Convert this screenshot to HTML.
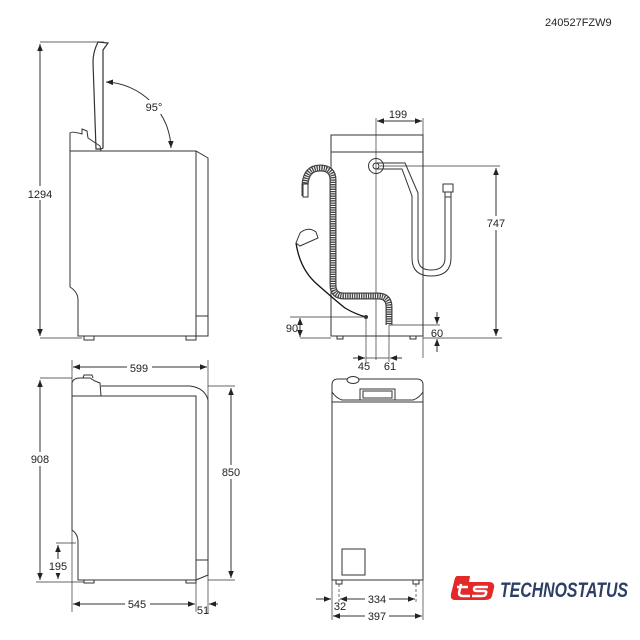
<!DOCTYPE html>
<html><head><meta charset="utf-8"><style>
html,body{margin:0;padding:0;background:#fff}
svg{display:block}
text{font-family:"Liberation Sans",sans-serif;font-size:11px;fill:#222}
</style></head><body>
<svg width="640" height="640" viewBox="0 0 640 640" xmlns="http://www.w3.org/2000/svg">
<defs>
<marker id="a" viewBox="0 0 10 10" refX="10" refY="5" markerWidth="7" markerHeight="7" orient="auto-start-reverse"><path d="M0,1 L10,5 L0,9 z" fill="#222"/></marker>
</defs>
<g fill="none" stroke="#333" stroke-width="1">
<line x1="40" y1="42" x2="104" y2="42" stroke-width="0.7"/>
<line x1="40" y1="338" x2="82" y2="338" stroke-width="0.7"/>
<line x1="40" y1="44" x2="40" y2="336" marker-start="url(#a)" marker-end="url(#a)"/>
<path d="M98,42 L108,43 L103,50 L103,148 L101,149 L96,149 L93,62 Q93,52 98,42 z" stroke-width="1.2"/>
<path d="M70,151 L70,133 Q72,131 82,134 L82,129 L87,131 L88,138 L100,146 L101,151"/>
<path d="M70,151 L196,151 L208,158 L208,336 L196,336 M196,151 L196,336 M196,316 L208,316"/>
<path d="M70,151 L70,287 Q78,292 78,300 L78,336 L196,336"/>
<path d="M84,336 L84,340 L94,340 L94,336 M186,336 L186,340 L196,340 L196,336"/>
<path d="M106,82 A68,68 0 0 1 171,148" marker-start="url(#a)" marker-end="url(#a)"/>

<path d="M331,336 L331,135 L423,135 L423,336 Z M331,152 L423,152"/>
<path d="M337,336 L337,339 L343,339 L343,336 M410,336 L410,339 L416,339 L416,336"/>
<line x1="376" y1="118" x2="376" y2="360" stroke-width="0.7"/>
<line x1="423" y1="118" x2="423" y2="358" stroke-width="0.7"/>
<line x1="377" y1="121" x2="422" y2="121" marker-start="url(#a)" marker-end="url(#a)"/>
<circle cx="376" cy="166" r="7.5"/>
<circle cx="376" cy="166" r="3"/>
<path d="M376,163 L405,163 L418,193 L418,258 Q418,270 431,270 Q445,270 445,258 L445,196 M376,169 L402,169 L412,196 L412,258 Q412,276 431,276 Q451,276 451,258 L451,196"/>
<rect x="443" y="184" width="10" height="8"/>
<rect x="445" y="192" width="6" height="5"/>
<line x1="380" y1="166" x2="500" y2="166" stroke-width="0.7"/>
<line x1="423" y1="338" x2="502" y2="338" stroke-width="0.7"/>
<line x1="300" y1="338" x2="331" y2="338" stroke-width="0.7"/>
<line x1="496" y1="168" x2="496" y2="336" marker-start="url(#a)" marker-end="url(#a)"/>
<path d="M305,196 L305,185 Q306,168 320,168 Q333,168 333,180 L333,285 Q333,296 344,296 L378,296 Q389,296 389,307 L389,325" stroke="#444" stroke-width="7"/>
<path d="M305,196 L305,185 Q306,168 320,168 Q333,168 333,180 L333,285 Q333,296 344,296 L378,296 Q389,296 389,307 L389,325" stroke="#fff" stroke-width="4.5" stroke-dasharray="1 1.3"/>
<rect x="303" y="184" width="5" height="13" fill="#fff"/>
<path d="M296,243 Q300,270 318,285 Q335,300 345,308 Q355,314 366,317" stroke="#111" stroke-width="1.3"/>
<path d="M296,243 L300,233 Q308,226 316,232 L318,238 L300,246 z" fill="#fff"/>
<circle cx="366" cy="317" r="1.5" fill="#333"/>
<line x1="290" y1="317" x2="366" y2="317" stroke-width="0.7"/>
<line x1="300" y1="318" x2="300" y2="337" marker-start="url(#a)" marker-end="url(#a)"/>
<line x1="389" y1="325" x2="440" y2="325" stroke-width="0.7"/>
<line x1="437" y1="312" x2="437" y2="324" marker-end="url(#a)"/>
<line x1="437" y1="352" x2="437" y2="339" marker-end="url(#a)"/>
<line x1="366" y1="317" x2="366" y2="362" stroke-width="0.7"/>
<line x1="389" y1="325" x2="389" y2="362" stroke-width="0.7"/>
<line x1="353" y1="358" x2="365" y2="358" marker-end="url(#a)"/>
<line x1="402" y1="358" x2="390" y2="358" marker-end="url(#a)"/>
<line x1="366" y1="358" x2="389" y2="358" stroke-width="0.7"/>

<line x1="72" y1="360" x2="72" y2="612" stroke-width="0.7"/>
<line x1="208" y1="360" x2="208" y2="614" stroke-width="0.7"/>
<line x1="196" y1="560" x2="196" y2="612" stroke-width="0.7"/>
<line x1="73" y1="367" x2="207" y2="367" marker-start="url(#a)" marker-end="url(#a)"/>
<path d="M72,396 L72,383 Q73,378 80,378 L90,378 L95,381 L100,383 L101,396 M101,386 L190,386 Q205,388 208,400 L208,575 L196,580 M72,396 L196,396 L196,580 M196,560 L208,560"/>
<path d="M83,378 L84,375 L92,375 L93,378"/>
<path d="M72,396 L72,530 Q78,534 78,542 L78,580 L196,580"/>
<path d="M84,580 L84,583 L94,583 L94,580 M186,580 L186,583 L196,583 L196,580"/>
<line x1="40" y1="378" x2="72" y2="378" stroke-width="0.7"/>
<line x1="36" y1="582" x2="84" y2="582" stroke-width="0.7"/>
<line x1="40" y1="380" x2="40" y2="580" marker-start="url(#a)" marker-end="url(#a)"/>
<line x1="208" y1="386" x2="235" y2="386" stroke-width="0.7"/>
<line x1="208" y1="580" x2="235" y2="580" stroke-width="0.7"/>
<line x1="231" y1="388" x2="231" y2="578" marker-start="url(#a)" marker-end="url(#a)"/>
<line x1="56" y1="543" x2="76" y2="543" stroke-width="0.7"/>
<line x1="58" y1="545" x2="58" y2="579" marker-start="url(#a)" marker-end="url(#a)"/>
<line x1="73" y1="604" x2="195" y2="604" marker-start="url(#a)" marker-end="url(#a)"/>
<line x1="218" y1="604" x2="209" y2="604" marker-end="url(#a)"/>

<path d="M332,580 L332,385 Q332,379 338,379 L417,379 Q423,379 423,385 L423,580 Z"/>
<path d="M332,392 Q336,398 342,400 L413,400 Q419,398 423,392 M332,402 L423,402"/>
<ellipse cx="353" cy="380" rx="6" ry="3.5" fill="#fff"/>
<rect x="360" y="389" width="35" height="11"/>
<rect x="363" y="391" width="29" height="7"/>
<rect x="342" y="549" width="23" height="26"/>
<path d="M336,580 L336,584 L342,584 L342,580 M413,580 L413,584 L419,584 L419,580"/>
<line x1="339" y1="584" x2="339" y2="602" stroke-dasharray="3 2" stroke-width="0.7"/>
<line x1="416" y1="584" x2="416" y2="602" stroke-dasharray="3 2" stroke-width="0.7"/>
<line x1="332" y1="580" x2="332" y2="620" stroke-width="0.7"/>
<line x1="423" y1="580" x2="423" y2="620" stroke-width="0.7"/>
<line x1="340" y1="599" x2="415" y2="599" marker-start="url(#a)" marker-end="url(#a)"/>
<line x1="316" y1="599" x2="331" y2="599" marker-end="url(#a)"/>
<line x1="333" y1="616" x2="422" y2="616" marker-start="url(#a)" marker-end="url(#a)"/>
</g>
<g fill="#fff">
<rect x="27" y="186" width="26" height="14"/>
<rect x="27" y="452" width="26" height="14"/>
<rect x="219" y="465" width="24" height="14"/>
<rect x="47" y="559" width="22" height="14"/>
<rect x="127" y="361" width="25" height="13"/>
<rect x="125" y="598" width="25" height="13"/>
<rect x="145" y="100" width="20" height="14"/>
<rect x="484" y="216" width="24" height="14"/>
<rect x="365" y="593" width="24" height="12"/>
<rect x="365" y="610" width="24" height="12"/>
</g>
<text x="545" y="26">240527FZW9</text>
<text x="40" y="198" text-anchor="middle">1294</text>
<text x="154" y="111" text-anchor="middle">95°</text>
<text x="398" y="118" text-anchor="middle">199</text>
<text x="496" y="227" text-anchor="middle">747</text>
<text x="292" y="332" text-anchor="middle">90</text>
<text x="437" y="337" text-anchor="middle">60</text>
<text x="364" y="370" text-anchor="middle">45</text>
<text x="390" y="370" text-anchor="middle">61</text>
<text x="139" y="372" text-anchor="middle">599</text>
<text x="40" y="463" text-anchor="middle">908</text>
<text x="231" y="476" text-anchor="middle">850</text>
<text x="58" y="570" text-anchor="middle">195</text>
<text x="137" y="608" text-anchor="middle">545</text>
<text x="203" y="614" text-anchor="middle">51</text>
<text x="377" y="603" text-anchor="middle">334</text>
<text x="340" y="610" text-anchor="middle">32</text>
<text x="377" y="620" text-anchor="middle">397</text>
<g>
<path d="M457,576 L470,576 L469,582 L489,582 Q495,582 494,588 L492,596 Q491,600 485,600 L455,600 Q450,600 451,594 L454,582 Q455,576 457,576 z" fill="#e32a2a"/>
<path d="M461,584 L459,593 Q459,596 463,596 L470,596 M457,587 L468,587" stroke="#fff" stroke-width="2.5" fill="none"/>
<path d="M488,587 L477,587 Q474,587 474,589 Q474,591 477,591 L484,591 Q487,591 486,593 Q486,596 482,596 L472,596" stroke="#fff" stroke-width="2.5" fill="none"/>
<text x="500" y="597" style="font-size:21px;font-weight:bold;font-style:italic;fill:#2d3e66" textLength="128" lengthAdjust="spacingAndGlyphs">TECHNOSTATUS</text>
</g>
</svg>
</body></html>
